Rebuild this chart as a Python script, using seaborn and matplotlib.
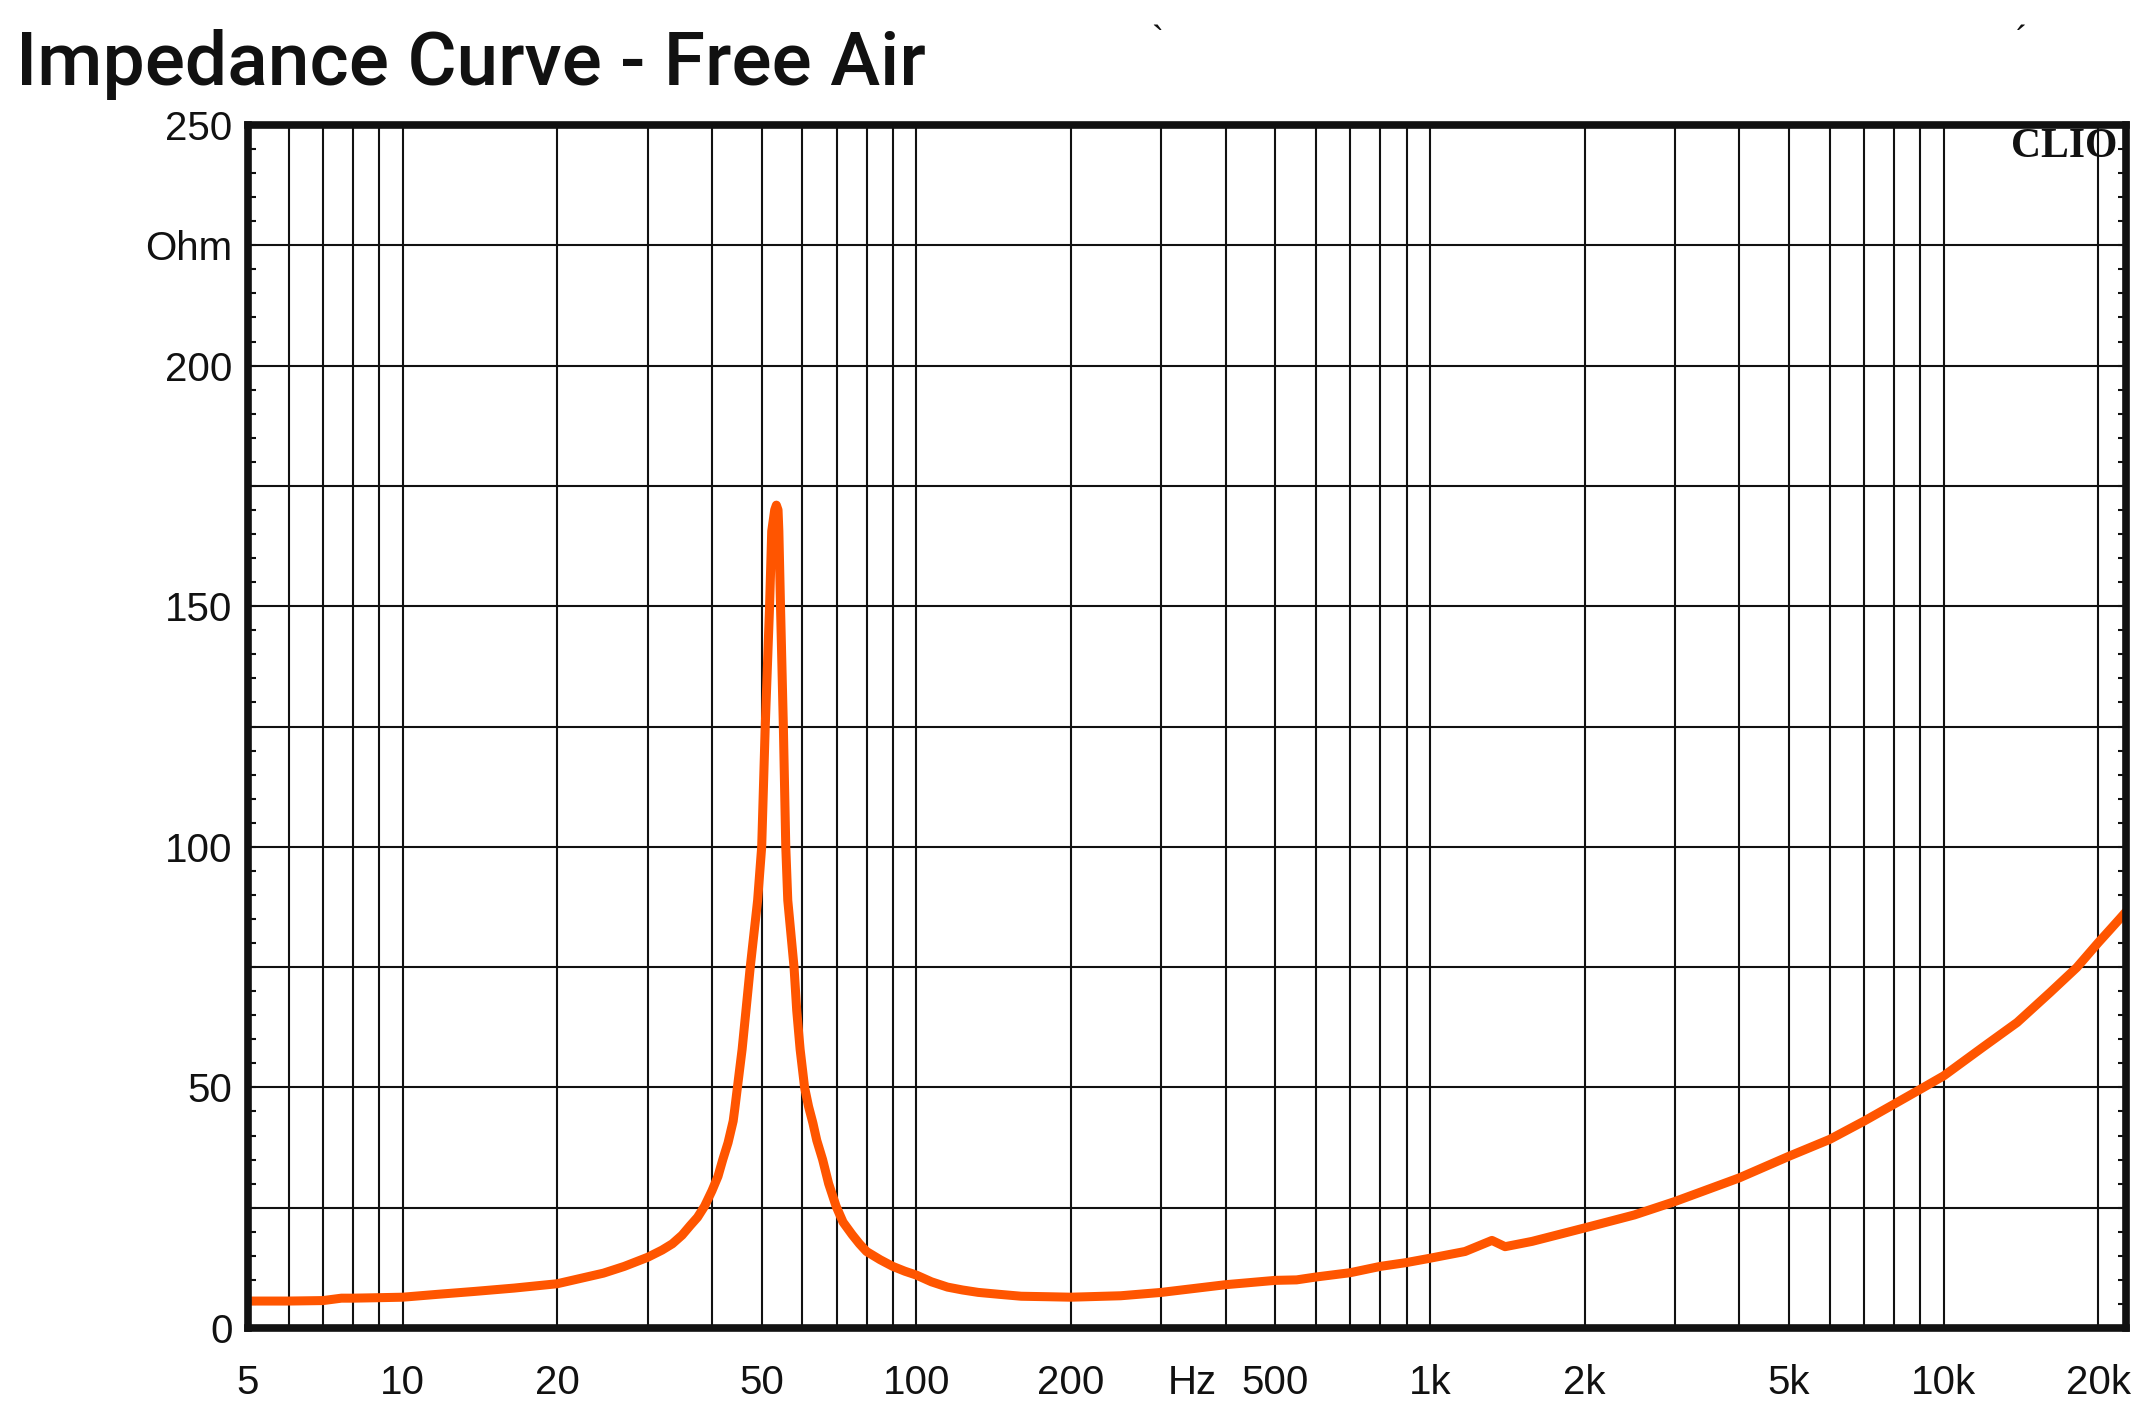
import numpy as np
import pandas as pd
import matplotlib
matplotlib.use("Agg")
import matplotlib.pyplot as plt
import seaborn as sns
from matplotlib.ticker import FixedLocator, FixedFormatter, NullFormatter

# ---- data ----
freq_hz = [5, 6, 7, 7.6, 8, 9, 10, 11.7, 13.8, 16.5, 20, 24.6, 27, 30, 32, 33.5, 35,
           36.3, 37.5, 38.7, 40, 41.1, 42, 43.0, 44.0, 44.3, 45.3, 45.8, 46.5, 47.5,
           49.1, 50.0, 50.8, 51.8, 52.3, 53.0, 53.4, 53.8, 54.0, 54.4, 55.1, 55.7,
           56.2, 57.8, 58.5, 59.4, 60.6, 61.7, 62.9, 64, 65.7, 67.5, 69.8, 72, 75,
           77.5, 80, 85, 90, 95, 100, 107, 115, 123, 132, 145, 160, 180, 200, 250,
           300, 400, 500, 550, 600, 700, 800, 900, 1000, 1170, 1320, 1400, 1580, 2000,
           2500, 3000, 4000, 5000, 6000, 7000, 8000, 9000, 10000, 11900, 13900, 16100,
           18150, 20000, 21000, 22000, 22640]
impedance_ohm = [5.6, 5.6, 5.7, 6.2, 6.2, 6.3, 6.4, 7.0, 7.6, 8.3, 9.2, 11.4, 12.8,
                 14.7, 16.2, 17.5, 19.3, 21.3, 23.0, 25.3, 28.5, 31.5, 35.0, 38.5, 43.0,
                 45.4, 53.8, 57.9, 65.0, 75, 88.9, 100, 125, 150, 165.6, 170, 171, 170,
                 165.6, 150, 125, 100, 88.9, 75, 66.0, 57.9, 50, 46.0, 42.6, 39.0, 35,
                 30.0, 25.3, 22.0, 19.4, 17.5, 15.9, 14.2, 12.8, 11.8, 11.0, 9.6, 8.5,
                 7.9, 7.4, 7.0, 6.6, 6.5, 6.4, 6.7, 7.4, 9.0, 9.9, 10.0, 10.6, 11.5,
                 12.8, 13.6, 14.5, 15.9, 18.2, 16.9, 18.0, 20.8, 23.5, 26.3, 31.2, 35.7,
                 39.2, 43.0, 46.5, 49.6, 52.4, 58.3, 63.5, 69.7, 74.9, 80.1, 82.6, 85.0,
                 86.5]

x_tick_pos = [5, 10, 20, 50, 100, 200, 345, 500, 1000, 2000, 5000, 10000, 20000]
x_tick_labels = ["5", "10", "20", "50", "100", "200", "Hz", "500", "1k", "2k", "5k", "10k", "20k"]
y_tick_pos = [0, 25, 50, 75, 100, 125, 150, 175, 200, 225, 250]
y_tick_labels = ["0", "", "50", "", "100", "", "150", "", "200", "Ohm", "250"]

title = "Impedance Curve - Free Air"

# grid positions for the log x-axis: 1..9 per decade, from 5 Hz to 20 kHz
x_grid = [m * d for d in [1, 10, 100, 1000, 10000] for m in range(1, 10)]
x_grid = [g for g in x_grid if 5 <= g <= 20000]
y_minor = list(range(0, 251, 5))

df = pd.DataFrame({"freq": freq_hz, "z": impedance_ohm})

sns.set_style("white")
plt.rcParams["font.family"] = ["Liberation Sans", "DejaVu Sans"]

W, H = 2152, 1414
fig = plt.figure(figsize=(W / 100, H / 100), dpi=100)
L, R, T, B = 248, 2126, 125, 1328
ax = fig.add_axes([L / W, 1 - B / H, (R - L) / W, (B - T) / H])

sns.lineplot(data=df, x="freq", y="z", ax=ax, color="#FF5500", linewidth=6.5,
             solid_capstyle="round", solid_joinstyle="round", zorder=5,
             estimator=None, sort=False)

ax.set_xscale("log")
ax.set_xlim(5, 22640)
ax.set_ylim(0, 250)

ax.xaxis.remove_overlapping_locs = False
ax.yaxis.remove_overlapping_locs = False

ax.xaxis.set_major_locator(FixedLocator(x_tick_pos))
ax.xaxis.set_major_formatter(FixedFormatter(x_tick_labels))
ax.xaxis.set_minor_locator(FixedLocator(x_grid))
ax.xaxis.set_minor_formatter(NullFormatter())

ax.yaxis.set_major_locator(FixedLocator(y_tick_pos))
ax.yaxis.set_major_formatter(FixedFormatter(y_tick_labels))
ax.yaxis.set_minor_locator(FixedLocator(y_minor))

ax.grid(False)
ax.grid(True, which="minor", axis="x", color="#111111", linewidth=1.5)
ax.grid(True, which="major", axis="y", color="#111111", linewidth=1.5)

ax.tick_params(axis="x", which="both", length=0, pad=26, labelsize=29, colors="#111111")
ax.tick_params(axis="y", which="major", length=0, pad=11, labelsize=29, colors="#111111")
ax.tick_params(axis="y", which="minor", direction="in", left=True, right=True,
               length=6, width=1.5, color="#111111")

for s in ax.spines.values():
    s.set_visible(True)
    s.set_color("#111111")
    s.set_linewidth(5.5)
    s.set_capstyle("projecting")
    s.set_zorder(10)

ax.set_xlabel("")
ax.set_ylabel("")

fig.text(16 / W, 1 - 85 / H, title, fontsize=54, color="#111111",
         family=["Roboto", "DejaVu Sans"], fontweight="medium", va="baseline", ha="left")
fig.text(2117 / W, 1 - 147 / H, "CLIO", fontsize=30, fontweight="bold",
         family=["Liberation Serif", "DejaVu Serif"], color="#111111",
         ha="right", va="center", zorder=20)
fig.text(1157 / W, 1 - 43 / H, "`", fontsize=26, color="#111111", ha="center", va="center")
fig.text(2022 / W, 1 - 43 / H, "\u00b4", fontsize=26, color="#111111", ha="center", va="center")

fig.savefig("out.png", dpi=100, facecolor="white")
